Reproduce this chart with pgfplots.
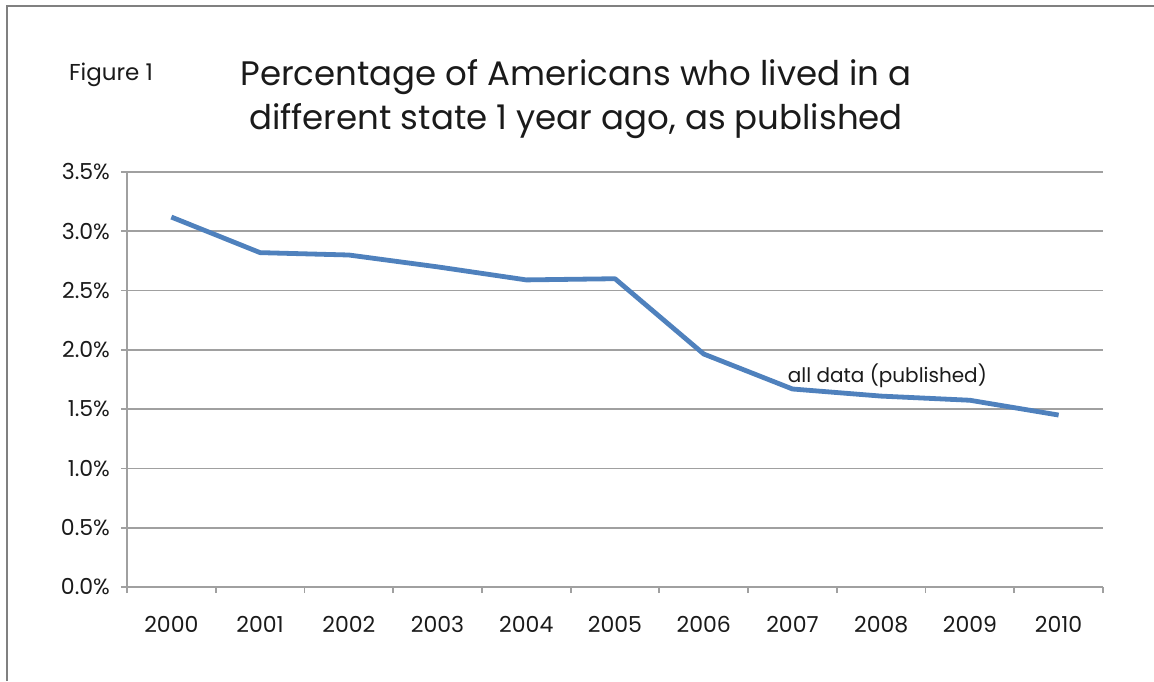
\documentclass[border=0pt]{standalone}
\usepackage{pgfplots}
\pgfplotsset{compat=1.18}
\usepackage{fontspec}
\setmainfont{Poppins}
\definecolor{linecol}{HTML}{4F81BD}
\definecolor{gridcol}{HTML}{A0A0A0}
\definecolor{framecol}{HTML}{808080}
\definecolor{textcol}{HTML}{1A1A1A}
\begin{document}
\begin{tikzpicture}
\path[use as bounding box] (-63.5pt,-47pt) rectangle (513.5pt,293.5pt);
\draw[framecol, line width=1pt] (-60pt,-47pt) -- (-60pt,290.5pt) -- (513.5pt,290.5pt);
\begin{axis}[
    scale only axis,
    width=488pt, height=207.5pt,
    xmin=-0.5, xmax=10.5,
    ymin=0, ymax=3.5,
    axis x line*=bottom,
    axis y line*=left,
    axis line style={gridcol, line width=0.9pt},
    xtick={0,...,10},
    xticklabels={2000,2001,2002,2003,2004,2005,2006,2007,2008,2009,2010},
    major x tick style={draw=none},
    minor xtick={-0.5,0.5,...,10.5},
    minor x tick style={gridcol, line width=0.9pt},
    ytick={0,0.5,...,3.5},
    y tick style={gridcol, line width=0.9pt},
    tick align=outside,
    major tick length=3pt,
    minor tick length=3pt,
    ymajorgrids,
    grid style={gridcol, line width=0.9pt},
    yticklabel={\pgfmathprintnumber[fixed,fixed zerofill,precision=1]{\tick}\%},
    /pgf/number format/assume math mode=true,
    tick label style={font=\fontsize{11}{13}\selectfont, text=textcol},
    xticklabel style={yshift=-8pt},
    yticklabel style={xshift=-2pt},
    clip=false,
]
\addplot[linecol, line width=2.4pt, line join=round] coordinates {
(0,3.12) (1,2.82) (2,2.80) (3,2.70) (4,2.59) (5,2.60)
(6,1.965) (7,1.67) (8,1.61) (9,1.575) (10,1.45)
};
\node[font=\fontsize{10}{12}\selectfont, text=textcol] at (axis cs:8.07,1.78) {all data (published)};
\end{axis}
\node[font=\fontsize{11.5}{13}\selectfont, text=textcol] at (-8pt,256pt) {Figure 1};
\node[font=\fontsize{17}{22}\selectfont, text=textcol, align=center] at (224.5pt,244pt)
  {Percentage of Americans who lived in a\\different state 1 year ago, as published};
\end{tikzpicture}
\end{document}
